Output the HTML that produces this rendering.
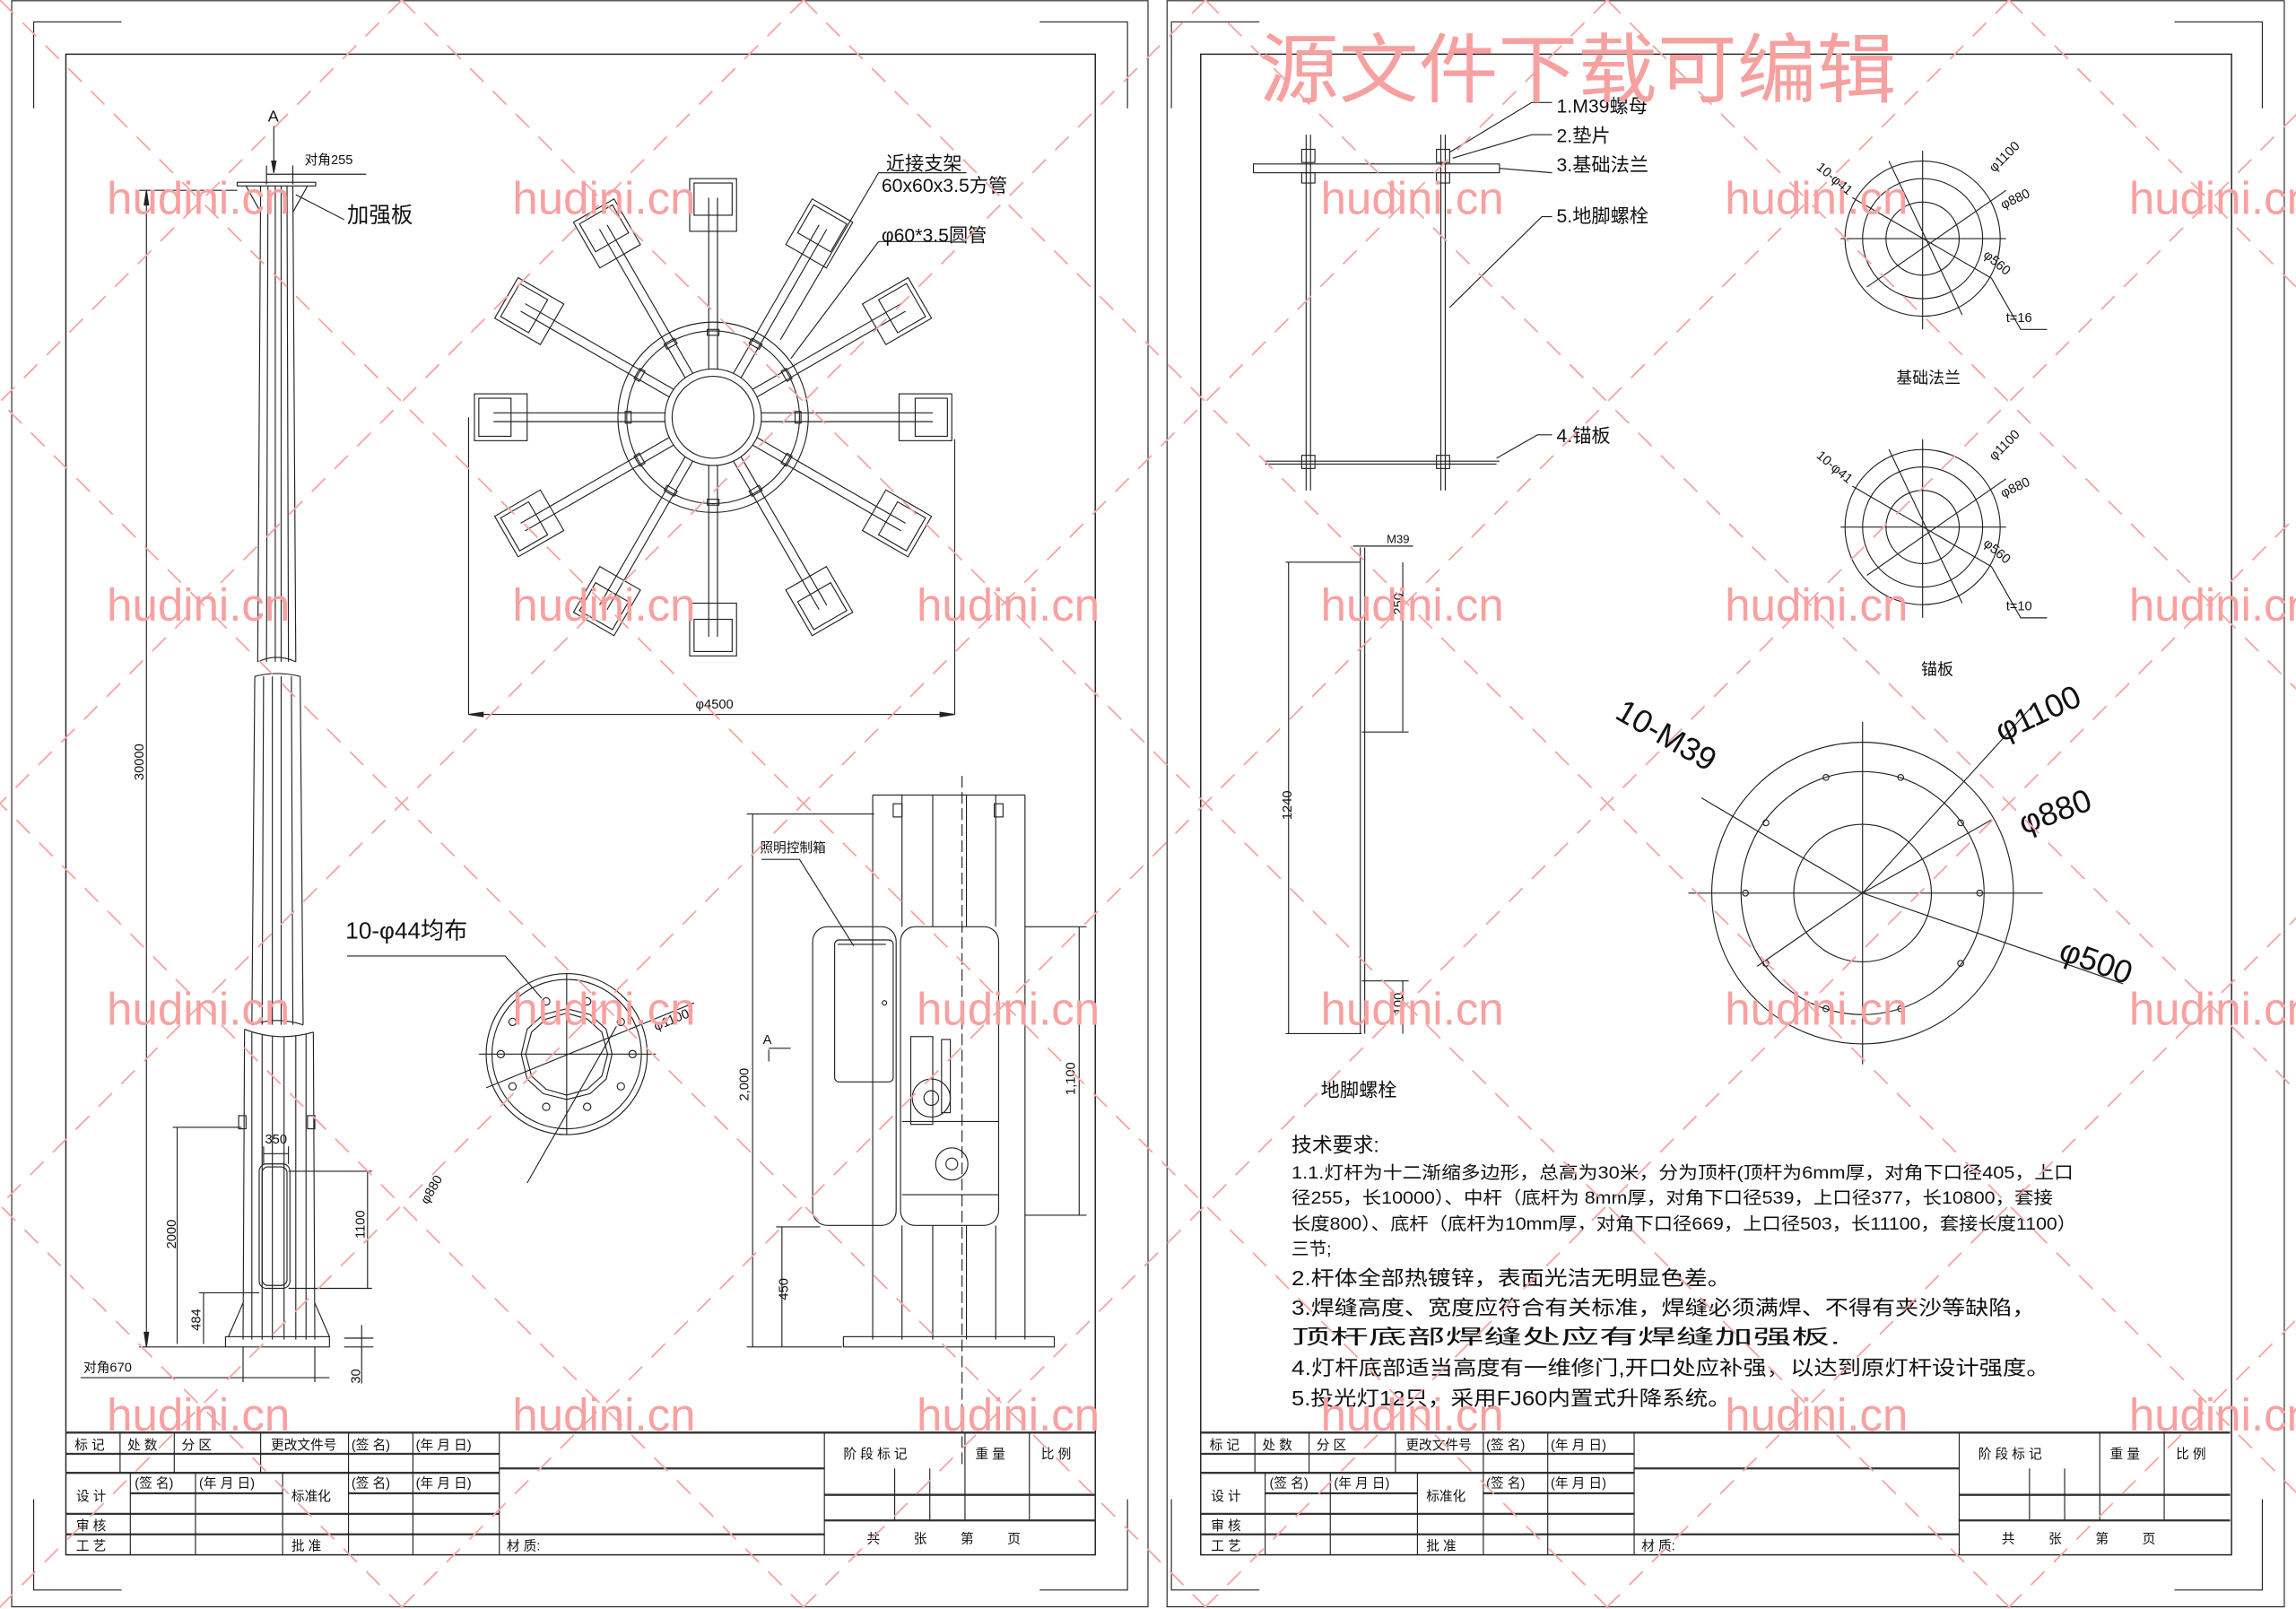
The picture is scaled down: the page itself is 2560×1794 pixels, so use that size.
<!DOCTYPE html>
<html><head><meta charset="utf-8"><style>
html,body{margin:0;padding:0;background:#fff;}
svg{display:block;}
text{font-family:"Liberation Sans","Noto Sans CJK SC",sans-serif;fill:#111;stroke:none;}
.l{stroke:#222;stroke-width:0.7;fill:none;}
.t{stroke:#222;stroke-width:0.9;fill:none;}
.th{stroke:#333;stroke-width:1.4;fill:none;}
.wm{stroke:#f7a3a3;stroke-width:1.1;stroke-dasharray:13 9;fill:none;}
.wt text{fill:#f9a0a0;font-size:31px;}
.s{font-size:9px;}
.m{font-size:13px;}
</style></head><body>
<svg width="2560" height="1794" viewBox="0 0 1568 1099" preserveAspectRatio="none" xmlns="http://www.w3.org/2000/svg">
<rect width="1568" height="1099" fill="#fff"/>

<!-- ============ SHEET BORDERS ============ -->
<g class="l">
<rect x="8" y="0.5" width="776" height="1097"/>
<rect x="797" y="0.5" width="763" height="1097"/>
<rect x="45" y="37" width="703" height="1025" class="t"/>
<rect x="820" y="37" width="704" height="1025" class="t"/>
<path d="M23 74V15H83 M23 1024V1086H83 M770 74V15H710 M770 1024V1086H710"/>
<path d="M800 74V15H860 M800 1024V1086H860 M1545 74V15H1485 M1545 1024V1086H1485"/>
</g>

<!-- ============ TITLE BLOCKS ============ -->
<g id="tb">
<g class="l">
<path d="M45 978.5H748 M45 993H341 M45 1006H341 M89 1020H193 M238 1020H341 M45 1034H341 M45 1048H563 M341 1003H563 M563 1021H748 M563 1038.5H748" class="th"/>
<path d="M82 978.5V1006 M119 978.5V1006 M178 978.5V1006 M238 978.5V1062 M282 978.5V1062 M341 978.5V1062 M563 978.5V1062 M659 978.5V1038.5 M703 978.5V1038.5 M611 1003V1038.5 M635 1003V1038.5 M89 1006V1062 M133.5 1006V1062 M193 1006V1062"/>
</g>
<g class="s">
<text x="51" y="990">标 记</text><text x="87" y="990">处 数</text><text x="124" y="990">分 区</text><text x="185" y="990">更改文件号</text><text x="240" y="990">(签 名)</text><text x="284" y="990">(年 月 日)</text>
<text x="92" y="1016">(签 名)</text><text x="136" y="1016">(年 月 日)</text><text x="240" y="1016">(签 名)</text><text x="284" y="1016">(年 月 日)</text>
<text x="52" y="1025">设 计</text><text x="199" y="1025">标准化</text>
<text x="52" y="1045">审 核</text><text x="52" y="1059">工 艺</text><text x="199" y="1059">批 准</text>
<text x="346" y="1059">材 质:</text>
<text x="576" y="996">阶 段 标 记</text><text x="666" y="996">重 量</text><text x="711" y="996">比 例</text>
<text x="592" y="1054">共</text><text x="624" y="1054">张</text><text x="656" y="1054">第</text><text x="688" y="1054">页</text>
</g>
</g>
<use href="#tb" x="775" y="0"/>

<!-- ============ LEFT: POLE ELEVATION ============ -->
<g class="l">
<text x="183" y="83" class="s" style="font-size:11px">A</text>
<path d="M187 86V118"/><path d="M185.5 110L187 118L188.5 110Z" fill="#222"/>
<path d="M182 119H200 M200 119H250 M182 113V126 M200 113V126"/>
<text x="208" y="112" class="s">对角255</text>
<rect x="162" y="124.5" width="53.6" height="2.5"/>
<path d="M168 127L178 145 M210 127L200 145 M202 133L235 150"/>
<text x="237" y="152" style="font-size:15px">加强板</text>
<path d="M178 127L176 452 M200 127L202 452 M183 127L182 452 M188 127L188 452 M192 127L192 452 M196 127L197 452"/>
<path d="M176 452Q189 446 202 452"/>
<path d="M174 462Q189 458 205 462 M174 462L172 700 M205 462L207 700 M180 462L179 700 M186 462L186 700 M192 462L192 700 M199 462L200 700"/>
<path d="M172 700Q189 694 207 700"/>
<path d="M167 703Q190 712 214 705 M167 703L166 915 M214 705L215 915 M172 705V915 M179 707V915 M186 708V915 M194 708V915 M202 707V915 M209 706V915"/>
<path d="M166 890L156 913 M215 890L225 913"/>
<rect x="154" y="913" width="71" height="7"/>
<rect x="163" y="762" width="5" height="9"/><rect x="210" y="762" width="5" height="9"/>
<rect x="177" y="795" width="21" height="85" rx="5"/>
<rect x="179" y="797" width="17" height="81" rx="4"/>
<path d="M100 130V918 M95 130H162 M95 920H154"/>
<path d="M98.5 140L100 130L101.5 140Z M98.5 910L100 920L101.5 910Z" fill="#222"/>
<text transform="translate(98,533) rotate(-90)" class="s">30000</text>
<path d="M121 770V918 M118 770H165"/>
<text transform="translate(120,853) rotate(-90)" class="s">2000</text>
<path d="M139 883V918 M136 883H177"/>
<text transform="translate(137,909) rotate(-90)" class="s">484</text>
<path d="M180 788H197 M180 783V795 M197 783V795"/>
<text x="181" y="781" class="s">350</text>
<path d="M251 800V880 M197 800H254 M197 880H254"/>
<text transform="translate(249,846) rotate(-90)" class="s">1100</text>
<path d="M55 941H225 M166 920V944 M215 920V944"/>
<text x="57" y="937" class="s">对角670</text>
<path d="M247 905V945 M235 914H255 M235 920H255"/>
<text transform="translate(246,945) rotate(-90)" class="s">30</text>
</g>

<!-- ============ LEFT: LAMP ARRAY TOP VIEW ============ -->
<g class="l">
<circle cx="487" cy="285" r="65"/><circle cx="487" cy="285" r="59"/>
<circle cx="487" cy="285" r="33"/><circle cx="487" cy="285" r="28"/>
<g id="arm">
<path d="M484 252V135 M490 252V135"/>
<rect x="471" y="122" width="32" height="36"/>
<rect x="474" y="125" width="26" height="22"/>
<rect x="483" y="225" width="8" height="4"/>
</g>
<use href="#arm" transform="rotate(30 487 285)"/>
<use href="#arm" transform="rotate(60 487 285)"/>
<use href="#arm" transform="rotate(90 487 285)"/>
<use href="#arm" transform="rotate(120 487 285)"/>
<use href="#arm" transform="rotate(150 487 285)"/>
<use href="#arm" transform="rotate(180 487 285)"/>
<use href="#arm" transform="rotate(210 487 285)"/>
<use href="#arm" transform="rotate(240 487 285)"/>
<use href="#arm" transform="rotate(270 487 285)"/>
<use href="#arm" transform="rotate(300 487 285)"/>
<use href="#arm" transform="rotate(330 487 285)"/>
<path d="M320 285V488 M652 300V488 M320 488H652"/>
<path d="M330 486.5L320 488L330 489.5Z M642 486.5L652 488L642 489.5Z" fill="#222"/>
<text x="475" y="484" class="s">φ4500</text>
<path d="M600 118L533 232 M600 165L540 245 M600 118H660 M600 165H650"/>
<text x="605" y="116" class="m">近接支架</text>
<text x="602" y="131" class="m">60x60x3.5方管</text>
<text x="602" y="165" class="m">φ60*3.5圆管</text>
</g>

<!-- ============ LEFT: FLANGE PLAN ============ -->
<g class="l">
<circle cx="387" cy="720" r="55"/><circle cx="387" cy="720" r="51"/>
<polygon points="387,689 403,693 414,703 418,720 414,737 403,747 387,751 371,747 360,737 356,720 360,703 371,693"/>
<polygon points="387,692 401,696 411,705 415,720 411,735 401,744 387,748 373,744 363,735 359,720 363,705 373,696"/>
<circle cx="373" cy="684" r="2.5"/><circle cx="401" cy="684" r="2.5"/><circle cx="424" cy="698" r="2.5"/><circle cx="432" cy="720" r="2.5"/><circle cx="424" cy="742" r="2.5"/><circle cx="401" cy="756" r="2.5"/><circle cx="373" cy="756" r="2.5"/><circle cx="350" cy="742" r="2.5"/><circle cx="342" cy="720" r="2.5"/><circle cx="350" cy="698" r="2.5"/>
<path d="M327 720H448 M387 665V775 M332 743L474 685 M360 808L421 701"/>
<path d="M237 653H345L370 682"/>
<text x="236" y="641" style="font-size:16px">10-φ44均布</text>
<text transform="translate(448,704) rotate(-22)" class="s">φ1100</text>
<text transform="translate(292,823) rotate(-60)" class="s">φ880</text>
</g>

<!-- ============ LEFT: CABINET ELEVATION ============ -->
<g class="l">
<path d="M596 543H700 M596 543V915 M700 543V915 M616 543V633 M637 543V633 M660 543V633 M680 543V633 M616 837V915 M637 837V915 M660 837V915 M680 837V915"/>
<path d="M657 530V1000" stroke-dasharray="8 3"/>
<rect x="610" y="549" width="6" height="9"/><rect x="679" y="549" width="6" height="9"/>
<rect x="555" y="633" width="57" height="204" rx="10"/>
<rect x="615" y="633" width="67" height="204" rx="10"/>
<rect x="570" y="642" width="40" height="97" rx="3"/>
<path d="M572 645H605"/><circle cx="604" cy="685" r="1.5"/>
<rect x="622" y="708" width="15" height="60"/>
<circle cx="636" cy="750" r="13"/><circle cx="636" cy="750" r="5"/>
<rect x="643" y="710" width="6" height="50"/><path d="M616 766H682 M616 816H682"/>
<circle cx="650" cy="795" r="11"/><circle cx="650" cy="795" r="4"/>
<rect x="576" y="913" width="144" height="7"/>
<path d="M510 556H597 M514 556V920 M510 920H575"/>
<text transform="translate(511,752) rotate(-90)" class="s">2,000</text>
<path d="M737 633V830 M700 633H742 M700 830H742"/>
<text transform="translate(734,748) rotate(-90)" class="s">1,100</text>
<path d="M534 838V920 M530 838H560"/>
<text transform="translate(538,888) rotate(-90)" class="s">450</text>
<path d="M520 587H546L583 646"/>
<text x="519" y="582" class="s">照明控制箱</text>
<text x="521" y="713" class="s">A</text>
<path d="M525 717V725 M525 716H540"/>
</g>

<!-- ============ RIGHT: ANCHOR ASSEMBLY ============ -->
<g class="l">
<rect x="856" y="112" width="168" height="6"/>
<path d="M892 92V335 M895 92V335 M984 92V335 M987 92V335"/>
<rect x="889" y="102" width="9" height="9"/><rect x="981" y="102" width="9" height="9"/>
<rect x="889" y="118" width="9" height="7"/><rect x="981" y="118" width="9" height="7"/>
<path d="M864 315H1024 M864 317H1022"/>
<rect x="889" y="311" width="9" height="9"/><rect x="981" y="311" width="9" height="9"/>
<path d="M990 104L1046 70H1060 M992 108L1046 92H1060 M1024 115L1060 118 M990 210L1053 148H1060 M1022 313L1050 297H1060"/>
</g>
<g class="m">
<text x="1063" y="77">1.M39螺母</text>
<text x="1063" y="97">2.垫片</text>
<text x="1063" y="117">3.基础法兰</text>
<text x="1063" y="152">5.地脚螺栓</text>
<text x="1063" y="302">4.锚板</text>
</g>

<g id="fc" class="l">
<circle cx="1313" cy="163" r="53"/><circle cx="1313" cy="163" r="41"/><circle cx="1313" cy="163" r="25"/>
<path d="M1257 163H1370 M1313 103V225 M1265 135L1360 190 M1275 196L1370 130 M1290 110L1340 215 M1360 190L1380 225H1398"/>
</g>
<text transform="translate(1240,115) rotate(40)" class="s">10-φ41</text>
<text transform="translate(1362,118) rotate(-45)" class="s">φ1100</text>
<text transform="translate(1368,143) rotate(-25)" class="s">φ880</text>
<text transform="translate(1354,175) rotate(40)" class="s">φ560</text>
<text x="1370" y="220" class="s">t=16</text>
<text x="1295" y="262" class="s" style="font-size:11px">基础法兰</text>
<use href="#fc" y="197"/>
<text transform="translate(1240,312) rotate(40)" class="s">10-φ41</text>
<text transform="translate(1362,315) rotate(-45)" class="s">φ1100</text>
<text transform="translate(1368,340) rotate(-25)" class="s">φ880</text>
<text transform="translate(1354,372) rotate(40)" class="s">φ560</text>
<text x="1370" y="417" class="s">t=10</text>
<text x="1312" y="461" class="s" style="font-size:11px">锚板</text>

<g class="l">
<path d="M929 374V706 M932 374V706 M924 373H965 M878 384H929 M880 384V706 M878 706H930 M958 384V500 M930 500H962 M958 670V706 M930 670H962"/>
</g>
<text x="947" y="371" class="s" style="font-size:8px">M39</text>
<text transform="translate(958,420) rotate(-90)" class="s">250</text>
<text transform="translate(882,560) rotate(-90)" class="s">1240</text>
<text transform="translate(958,693) rotate(-90)" class="s">100</text>
<text x="902" y="749" class="m">地脚螺栓</text>

<g class="l">
<circle cx="1272" cy="610" r="103"/><circle cx="1272" cy="610" r="83"/><circle cx="1272" cy="610" r="47"/>
<path d="M1153 610H1395 M1272 493V727 M1162 545L1272 610L1450 672 M1200 660L1272 610L1360 560 M1272 610L1390 480"/>
<circle cx="1247" cy="531" r="2"/><circle cx="1298" cy="531" r="2"/><circle cx="1339" cy="562" r="2"/><circle cx="1352" cy="610" r="2"/><circle cx="1339" cy="658" r="2"/><circle cx="1298" cy="689" r="2"/><circle cx="1247" cy="689" r="2"/><circle cx="1206" cy="658" r="2"/><circle cx="1192" cy="610" r="2"/><circle cx="1206" cy="562" r="2"/>
</g>
<text transform="translate(1102,490) rotate(30)" style="font-size:22px">10-M39</text>
<text transform="translate(1367,507) rotate(-25)" style="font-size:22px">φ1100</text>
<text transform="translate(1382,570) rotate(-20)" style="font-size:22px">φ880</text>
<text transform="translate(1405,655) rotate(20)" style="font-size:22px">φ500</text>

<g style="font-size:14px">
<text x="882" y="787">技术要求:</text>
<text x="882" y="805" style="font-size:12px" textLength="534" lengthAdjust="spacingAndGlyphs">1.1.灯杆为十二渐缩多边形，总高为30米，分为顶杆(顶杆为6mm厚，对角下口径405，上口</text>
<text x="882" y="822" style="font-size:12px" textLength="520" lengthAdjust="spacingAndGlyphs">径255，长10000）、中杆（底杆为 8mm厚，对角下口径539，上口径377，长10800，套接</text>
<text x="882" y="840" style="font-size:12px" textLength="536" lengthAdjust="spacingAndGlyphs">长度800）、底杆（底杆为10mm厚，对角下口径669，上口径503，长11100，套接长度1100）</text>
<text x="882" y="857" style="font-size:12px">三节;</text>
<text x="882" y="878" textLength="300" lengthAdjust="spacingAndGlyphs">2.杆体全部热镀锌，表面光洁无明显色差。</text>
<text x="882" y="898" textLength="508" lengthAdjust="spacingAndGlyphs">3.焊缝高度、宽度应符合有关标准，焊缝必须满焊、不得有夹沙等缺陷，</text>
<text x="882" y="918" textLength="375" lengthAdjust="spacingAndGlyphs">顶杆底部焊缝处应有焊缝加强板.</text>
<text x="882" y="939" textLength="518" lengthAdjust="spacingAndGlyphs">4.灯杆底部适当高度有一维修门,开口处应补强，以达到原灯杆设计强度。</text>
<text x="882" y="960" textLength="300" lengthAdjust="spacingAndGlyphs">5.投光灯12只，采用FJ60内置式升降系统。</text>
</g>

<!-- ============ WATERMARK ============ -->
<g class="wm">
<path d="M274.4 0L-824.6 1099 M548.8 0L-550.2 1099 M823.2 0L-275.8 1099 M1097.6 0L-1.4 1099 M1372 0L273 1099 M1646.4 0L547.4 1099 M1920.8 0L821.8 1099 M2195.2 0L1096.2 1099 M2469.6 0L1370.6 1099 M2744 0L1645 1099"/>
<path d="M-823.2 0L275.8 1099 M-548.8 0L550.2 1099 M-274.4 0L824.6 1099 M0 0L1099 1099 M274.4 0L1373.4 1099 M548.8 0L1647.8 1099 M823.2 0L1922.2 1099 M1097.6 0L2196.6 1099 M1372 0L2471 1099"/>
</g>
<g class="wt">
<text x="73" y="146" textLength="125" lengthAdjust="spacingAndGlyphs">hudini.cn</text>
<text x="350" y="146" textLength="125" lengthAdjust="spacingAndGlyphs">hudini.cn</text>
<text x="902" y="146" textLength="125" lengthAdjust="spacingAndGlyphs">hudini.cn</text>
<text x="1178" y="146" textLength="125" lengthAdjust="spacingAndGlyphs">hudini.cn</text>
<text x="1454" y="146" textLength="125" lengthAdjust="spacingAndGlyphs">hudini.cn</text>
<text x="73" y="424" textLength="125" lengthAdjust="spacingAndGlyphs">hudini.cn</text>
<text x="350" y="424" textLength="125" lengthAdjust="spacingAndGlyphs">hudini.cn</text>
<text x="626" y="424" textLength="125" lengthAdjust="spacingAndGlyphs">hudini.cn</text>
<text x="902" y="424" textLength="125" lengthAdjust="spacingAndGlyphs">hudini.cn</text>
<text x="1178" y="424" textLength="125" lengthAdjust="spacingAndGlyphs">hudini.cn</text>
<text x="1454" y="424" textLength="125" lengthAdjust="spacingAndGlyphs">hudini.cn</text>
<text x="73" y="700" textLength="125" lengthAdjust="spacingAndGlyphs">hudini.cn</text>
<text x="350" y="700" textLength="125" lengthAdjust="spacingAndGlyphs">hudini.cn</text>
<text x="626" y="700" textLength="125" lengthAdjust="spacingAndGlyphs">hudini.cn</text>
<text x="902" y="700" textLength="125" lengthAdjust="spacingAndGlyphs">hudini.cn</text>
<text x="1178" y="700" textLength="125" lengthAdjust="spacingAndGlyphs">hudini.cn</text>
<text x="1454" y="700" textLength="125" lengthAdjust="spacingAndGlyphs">hudini.cn</text>
<text x="73" y="977" textLength="125" lengthAdjust="spacingAndGlyphs">hudini.cn</text>
<text x="350" y="977" textLength="125" lengthAdjust="spacingAndGlyphs">hudini.cn</text>
<text x="626" y="977" textLength="125" lengthAdjust="spacingAndGlyphs">hudini.cn</text>
<text x="902" y="977" textLength="125" lengthAdjust="spacingAndGlyphs">hudini.cn</text>
<text x="1178" y="977" textLength="125" lengthAdjust="spacingAndGlyphs">hudini.cn</text>
<text x="1454" y="977" textLength="125" lengthAdjust="spacingAndGlyphs">hudini.cn</text>
</g>
<text x="860" y="66" style="fill:#f7a0a0;font-size:52px" textLength="435" lengthAdjust="spacingAndGlyphs">源文件下载可编辑</text>
</svg>
</body></html>
